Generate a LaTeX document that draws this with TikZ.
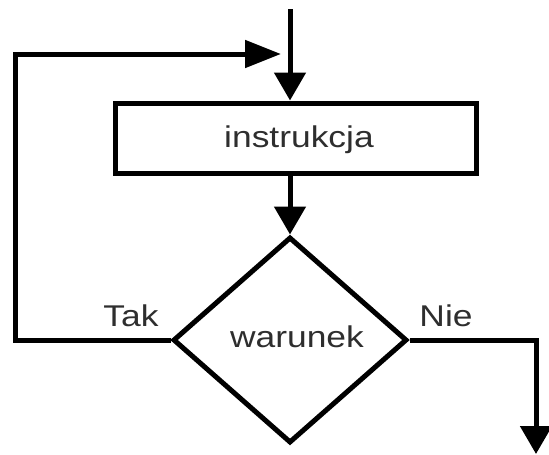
\documentclass[tikz,border=0pt]{standalone}
\usepackage{fontspec}
\setmainfont{Liberation Sans}[FakeStretch=1.18]
\usetikzlibrary{shapes.geometric,arrows.meta}
\definecolor{txt}{gray}{0.18}
\begin{document}
\begin{tikzpicture}[x=1pt,y=-1pt,
  line width=5pt,
  lbl/.style={font=\fontsize{30}{30}\selectfont, text=txt, anchor=base, inner sep=0pt},
  varrow/.style={-{Triangle[length=28pt,width=31pt]}},
  harrow/.style={-{Triangle[length=36pt,width=27pt]}},
  boxstyle/.style={draw, minimum width=361pt, minimum height=70pt, inner sep=0pt},
  decision/.style={draw, diamond, minimum width=234pt, minimum height=206pt, inner sep=0pt}]
\useasboundingbox (0,0) rectangle (549,455);
\node[boxstyle] (box) at (295.5,138) {};
\node[lbl] (instr) at (299,147) {instrukcja};
\node[decision] (cond) at (290,340) {};
\node[lbl] (war) at (297,347) {warunek};
\node[lbl] (tak) at (131,326) {Tak};
\node[lbl] (nie) at (446,326) {Nie};
\coordinate (start) at (290,9);
\coordinate (loopin) at (281,54);
\coordinate (exit) at (536,454);
\draw[varrow] (start) -- (start |- box.north);
\draw[varrow] (box.south -| start) -- (cond.north);
\draw[harrow, line join=miter] (cond.west) -- (15,340) -- (15,54) -- (loopin);
\draw[varrow, line join=miter] (cond.east) -| (exit);
\end{tikzpicture}
\end{document}
